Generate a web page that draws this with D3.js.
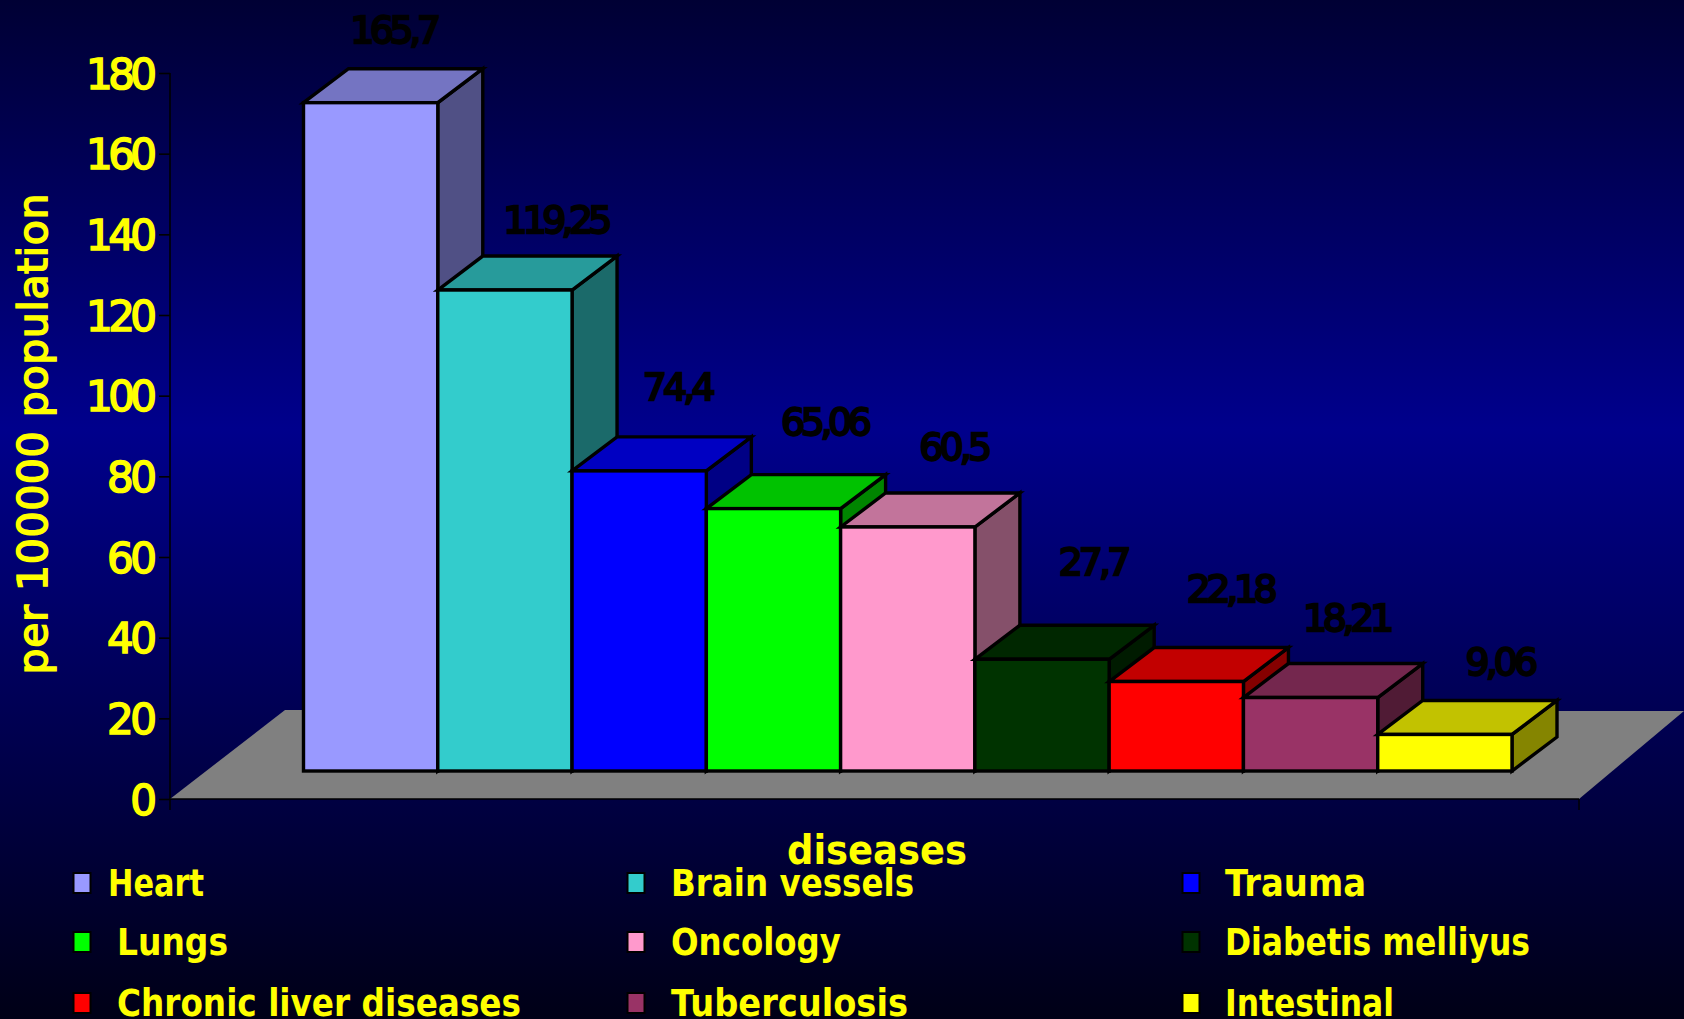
<!DOCTYPE html>
<html>
<head>
<meta charset="utf-8">
<script src="https://cdn.jsdelivr.net/npm/d3@7"></script>
<style>
  html, body { margin: 0; padding: 0; background: #000; overflow: hidden; }
  svg { display: block; }
</style>
</head>
<body>
<svg id="chart" width="1684" height="1019"></svg>
<script>
// Deaths per 100000 population by disease group
const categories = ["Heart", "Brain vessels", "Trauma", "Lungs", "Oncology",
  "Diabetis  melliyus", "Chronic liver diseases", "Tuberculosis", "Intestinal"];
const values = [165.7, 119.25, 74.4, 65.06, 60.5, 27.7, 22.18, 18.21, 9.06];
const valueLabels = ["165,7", "119,25", "74,4", "65,06", "60,5", "27,7", "22,18", "18,21", "9,06"];
const barColors = ["#9999ff", "#33cccc", "#0000ff", "#00ff00", "#ff99cc",
  "#003300", "#ff0000", "#993366", "#ffff00"];
const yTicks = [0, 20, 40, 60, 80, 100, 120, 140, 160, 180];

// Hand placement of the value labels, relative to each bar's top centre
const labelShiftX = [25, 53, 40, 53, 48, 53, 56, 38, 57];
const labelShiftY = [-73, -71, -85, -87, -81, -98, -93, -80, -73];

// Legend text widths and indents, in reading order
const legendTextWidths = [96, 243, 141, 111, 170, 305, 404, 237, 169];
const legendTextIndent = [26, 35, 34, 35, 35, 34, 35, 35, 34];

const svg = d3.select("#chart");
const defs = svg.append("defs");
const bg = defs.append("linearGradient").attr("id", "bg")
  .attr("x1", 0).attr("y1", 0).attr("x2", 0).attr("y2", 1);
bg.append("stop").attr("offset", "0%").attr("stop-color", "#000034");
bg.append("stop").attr("offset", "42%").attr("stop-color", "#00008c");
bg.append("stop").attr("offset", "100%").attr("stop-color", "#000016");
svg.append("rect").attr("width", 1684).attr("height", 1019).attr("fill", "url(#bg)");

const y = d3.scaleLinear().domain([0, 180]).range([799, 73]);
const x = d3.scaleBand().domain(categories).range([303.5, 1512]).padding(0);

// Pseudo-3D geometry: front face sits forward of the axis plane
const frontLift = 28;
const depthX = 45, depthY = 34;
const axisX = 170;

const NUM_FONT = "'DejaVu Sans', sans-serif";

// Text squeezed to a measured width by scaling the glyphs
function fit(sel, width) {
  return sel.attr("textLength", width).attr("lengthAdjust", "spacingAndGlyphs");
}
// Text squeezed to a measured width by tightening the spacing only
function tighten(sel, width) {
  return sel.attr("textLength", width).attr("lengthAdjust", "spacing");
}

// Value axis
const axisG = svg.append("g").attr("transform", `translate(${axisX},0)`)
  .call(d3.axisLeft(y).tickValues(yTicks).tickSize(11).tickPadding(4));
axisG.select(".domain").attr("stroke", "#000").attr("stroke-width", 1.6)
  .attr("d", `M0,${y(180)}V810`);
axisG.selectAll(".tick line").attr("stroke", "#000").attr("stroke-width", 1.6);
axisG.selectAll(".tick text")
  .attr("fill", "#ffff00").attr("font-family", NUM_FONT)
  .attr("font-size", 42).attr("stroke", "#ffff00").attr("stroke-width", 1.6)
  .attr("text-anchor", "end").attr("dy", "0.36em").attr("x", -13)
  .each(function (d) {
    if (d >= 100) tighten(d3.select(this), 71);
    else if (d > 0) tighten(d3.select(this), 50);
  });

// Floor
const floorPts = [[axisX, y(0)], [285, 710], [1684, 711], [1579, y(0)]];
svg.append("path").attr("d", d3.line()(floorPts) + "Z").attr("fill", "#808080");
svg.append("line").attr("x1", axisX).attr("x2", 1579).attr("y1", y(0)).attr("y2", y(0))
  .attr("stroke", "#000").attr("stroke-width", 1.4);
svg.append("line").attr("x1", 1579).attr("x2", 1579).attr("y1", y(0)).attr("y2", 810)
  .attr("stroke", "#000").attr("stroke-width", 1.4);

// Bars, painted left to right so each one covers its neighbour's side
const shade = (c, k) => {
  const r = d3.rgb(c);
  return d3.rgb(r.r * k, r.g * k, r.b * k).formatHex();
};
const bars = svg.append("g").selectAll("g").data(categories).join("g")
  .attr("stroke", "#000").attr("stroke-width", 3.4).attr("stroke-linejoin", "miter");

bars.each(function (name, i) {
  const g = d3.select(this);
  const x0 = x(name), x1 = x0 + x.bandwidth();
  const base = y(0) - frontLift;
  const top = y(values[i]) - frontLift;
  const line = d3.line();
  g.append("path")
    .attr("d", line([[x1, top], [x1 + depthX, top - depthY], [x1 + depthX, base - depthY], [x1, base]]) + "Z")
    .attr("fill", shade(barColors[i], 0.52));
  g.append("path")
    .attr("d", line([[x0, top], [x0 + depthX, top - depthY], [x1 + depthX, top - depthY], [x1, top]]) + "Z")
    .attr("fill", shade(barColors[i], 0.76));
  g.append("rect")
    .attr("x", x0).attr("y", top).attr("width", x.bandwidth()).attr("height", base - top)
    .attr("fill", barColors[i]);
});

// Value labels
svg.append("g").selectAll("text").data(valueLabels).join("text")
  .attr("x", (d, i) => x(categories[i]) + x.bandwidth() / 2 + labelShiftX[i])
  .attr("y", (d, i) => y(values[i]) - frontLift + labelShiftY[i])
  .attr("dy", "0.36em").attr("text-anchor", "middle")
  .attr("font-family", NUM_FONT).attr("font-size", 38)
  .attr("fill", "#000").attr("stroke", "#000").attr("stroke-width", 2.3)
  .text(d => d)
  .each(function (d) { tighten(d3.select(this), d.length * 18.2); });

// Axis titles
tighten(svg.append("text")
  .attr("transform", "translate(47,434) rotate(-90)")
  .attr("text-anchor", "middle")
  .attr("font-family", NUM_FONT).attr("font-size", 41).attr("fill", "#ffff00")
  .attr("stroke", "#ffff00").attr("stroke-width", 1.6)
  .text("per 100000 population"), 481);
fit(svg.append("text")
  .attr("x", 877).attr("y", 864).attr("text-anchor", "middle")
  .attr("font-family", NUM_FONT).attr("font-weight", "bold").attr("font-size", 40)
  .attr("fill", "#ffff00")
  .text("diseases"), 180);

// Legend: three columns, three rows
const legendCols = [82, 636, 1191];
const legendRows = [883, 942, 1003];
const legend = svg.append("g").selectAll("g").data(categories).join("g")
  .attr("transform", (d, i) => `translate(${legendCols[i % 3]},${legendRows[Math.floor(i / 3)]})`);
legend.append("rect")
  .attr("x", -8.5).attr("y", -10).attr("width", 17).attr("height", 20)
  .attr("fill", (d, i) => barColors[i])
  .attr("stroke", "#000").attr("stroke-width", 2);
legend.append("text")
  .attr("x", (d, i) => legendTextIndent[i])
  .attr("dy", "0.36em")
  .attr("font-family", NUM_FONT).attr("font-weight", "bold").attr("font-size", 37)
  .attr("fill", "#ffff00")
  .text(d => d)
  .each(function (d, i) { fit(d3.select(this), legendTextWidths[i]); });
</script>
</body>
</html>
